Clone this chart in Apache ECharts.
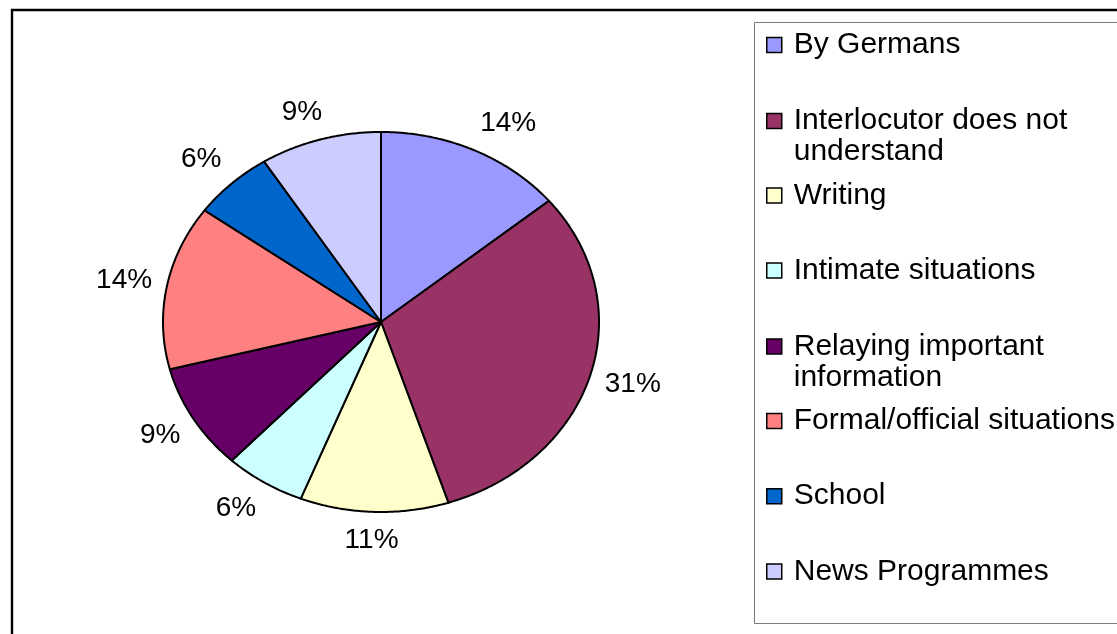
<!DOCTYPE html>
<html>
<head>
<meta charset="utf-8">
<script src="https://cdn.jsdelivr.net/npm/echarts@6/dist/echarts.min.js"></script>
<style>
  html, body { margin: 0; padding: 0; background: #ffffff; }
  #chart { width: 1117px; height: 634px; }
</style>
</head>
<body>
<div id="chart"></div>
<script>
// Survey answers: situations in which respondents find the language hard to use
const categories = [
  'By Germans',
  'Interlocutor does not understand',
  'Writing',
  'Intimate situations',
  'Relaying important information',
  'Formal/official situations',
  'School',
  'News Programmes'
];
// share of answers, percent
const shares = [14, 31, 11, 6, 9, 14, 6, 9];
// legend text, wrapped the way it is printed
const legendLines = [
  ['By Germans'],
  ['Interlocutor does not', 'understand'],
  ['Writing'],
  ['Intimate situations'],
  ['Relaying important', 'information'],
  ['Formal/official situations'],
  ['School'],
  ['News Programmes']
];

// classic office palette
const colors = ['#9999FF', '#993366', '#FFFFCC', '#CCFFFF', '#660066', '#FF8080', '#0066CC', '#CCCCFF'];

const FONT = "'Liberation Sans', Arial, sans-serif";
const LABEL_SIZE = 28;
const PIE = { cx: 381, cy: 322, rx: 218, ry: 190 };
const LEGEND = { left: 766, firstLine: 45, pitch: 75.2, lineHeight: 31, icon: 15, fontSize: 30 };

const total = shares.reduce((s, v) => s + v, 0);
const startShare = shares.map((v, i) => shares.slice(0, i).reduce((s, x) => s + x, 0));

const measureCtx = document.createElement('canvas').getContext('2d');
function textWidth(t) {
  measureCtx.font = LABEL_SIZE + 'px ' + FONT;
  return measureCtx.measureText(t).width;
}
function ellipsePoint(theta, rx, ry) {
  return [PIE.cx + rx * Math.sin(theta), PIE.cy - ry * Math.cos(theta)];
}
const clamp1 = v => Math.max(-1, Math.min(1, v));

// one elliptical wedge plus its outside percentage label
function renderSlice(params, api) {
  const i = params.seriesIndex;
  const value = api.value(0);
  const a0 = startShare[i] / total * Math.PI * 2;
  const a1 = a0 + value / total * Math.PI * 2;
  const steps = Math.max(2, Math.ceil((a1 - a0) / (Math.PI / 360)));
  const pts = [[PIE.cx, PIE.cy]];
  for (let k = 0; k <= steps; k++) {
    pts.push(ellipsePoint(a0 + (a1 - a0) * k / steps, PIE.rx, PIE.ry));
  }
  const mid = (a0 + a1) / 2;
  const s = Math.sin(mid), c = Math.cos(mid);
  const edge = ellipsePoint(mid, PIE.rx, PIE.ry);
  const label = Math.round(value / total * 100) + '%';
  const hw = textWidth(label) / 2, hh = 13, gap = 15;
  const lx = edge[0] + gap * s + hw * clamp1(2.5 * s);
  const ly = edge[1] - gap * c - hh * clamp1(1.4 * c);
  return {
    type: 'group',
    children: [
      {
        type: 'polygon',
        shape: { points: pts },
        style: { fill: api.visual('color'), stroke: '#000', lineWidth: 2, lineJoin: 'round' }
      },
      {
        type: 'text',
        style: {
          text: label, x: lx, y: ly, align: 'center', verticalAlign: 'middle',
          fill: '#000', fontSize: LABEL_SIZE, fontFamily: FONT
        }
      }
    ]
  };
}

const series = categories.map((name, i) => ({
  type: 'custom',
  name: name,
  coordinateSystem: 'none',
  renderItem: renderSlice,
  itemStyle: { color: colors[i] },
  data: [[shares[i]]],
  animation: false
}));

// one legend block per entry so the wrapped entries keep their icon on the first line
const legends = categories.map((name, i) => {
  const lines = legendLines[i];
  const h = lines.length * LEGEND.lineHeight;
  const off = (LEGEND.lineHeight - LEGEND.icon) / 2;
  const multi = lines.length > 1;
  return {
    data: [name],
    orient: 'vertical',
    left: LEGEND.left,
    top: LEGEND.firstLine + i * LEGEND.pitch - LEGEND.lineHeight / 2,
    padding: 0,
    selectedMode: false,
    itemWidth: LEGEND.icon,
    itemHeight: multi ? h : LEGEND.icon,
    icon: multi
      ? 'path://M0,0M' + LEGEND.icon + ',' + h + 'M0,' + off + 'h' + LEGEND.icon + 'v' + LEGEND.icon + 'h-' + LEGEND.icon + 'z'
      : 'rect',
    itemStyle: { borderColor: '#000', borderWidth: 1.5 },
    formatter: () => lines.join('\n'),
    textStyle: {
      color: '#000', fontSize: LEGEND.fontSize, fontFamily: FONT,
      lineHeight: LEGEND.lineHeight, padding: [0, 0, 0, 7]
    }
  };
});

const chart = echarts.init(document.getElementById('chart'), null, { renderer: 'canvas' });
chart.setOption({
  backgroundColor: '#ffffff',
  animation: false,
  color: colors,
  graphic: [
    { type: 'rect', z: -1, shape: { x: 12, y: 10, width: 1300, height: 800 },
      style: { fill: 'none', stroke: '#000', lineWidth: 2.4 } },
    { type: 'rect', z: -1, shape: { x: 754.5, y: 22.5, width: 500, height: 601 },
      style: { fill: 'none', stroke: '#7a7a7a', lineWidth: 1 } }
  ],
  legend: legends,
  series: series
});
</script>
</body>
</html>
